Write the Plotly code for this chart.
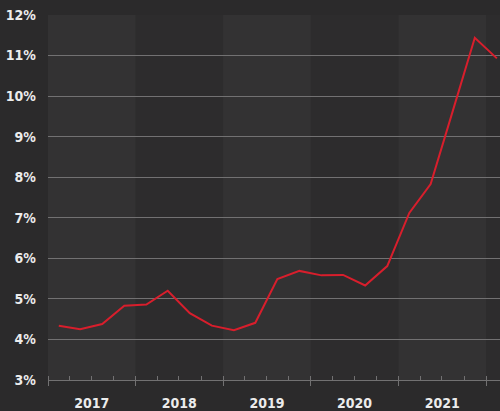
import plotly.graph_objects as go

# Quarterly data (mid-quarter dates)
dates = ["2017-02-15", "2017-05-15", "2017-08-15", "2017-11-15",
         "2018-02-15", "2018-05-15", "2018-08-15", "2018-11-15",
         "2019-02-15", "2019-05-15", "2019-08-15", "2019-11-15",
         "2020-02-15", "2020-05-15", "2020-08-15", "2020-11-15",
         "2021-02-15", "2021-05-15", "2021-08-15", "2021-11-15",
         "2022-02-15"]
values = [4.34, 4.25, 4.38, 4.83,
          4.86, 5.20, 4.65, 4.34,
          4.23, 4.41, 5.49, 5.69,
          5.58, 5.59, 5.33, 5.81,
          7.12, 7.83, 9.63, 11.44,
          10.93]
band_years = [2017, 2019, 2021]   # lighter background bands
y_ticks = [3, 4, 5, 6, 7, 8, 9, 10, 11, 12]
y_labels = [f"{v}%" for v in y_ticks]

FONT = "DejaVu Sans Condensed, Liberation Sans Narrow, sans-serif"
GRID = "#727172"
TEXT = "#ececec"
PAPER = "#2b2a2b"

fig = go.Figure()
fig.add_trace(go.Scatter(x=dates, y=values, mode="lines",
                         line=dict(color="#d81e2c", width=2),
                         hoverinfo="skip"))

for yr in band_years:
    fig.add_shape(type="rect", xref="x", yref="paper",
                  x0=f"{yr}-01-01", x1=f"{yr + 1}-01-01", y0=0, y1=1,
                  fillcolor="#333233", line_width=0, layer="below")

fig.update_layout(
    width=500, height=411,
    margin=dict(l=48, r=0, t=15, b=31, autoexpand=False),
    paper_bgcolor=PAPER,
    plot_bgcolor="#2d2c2d",
    showlegend=False,
    font=dict(family=FONT, color=TEXT, size=14),
)
fig.update_xaxes(
    type="date", range=["2017-01-01", "2022-02-28"],
    tick0="2017-01-01", dtick="M12", tickformat="%Y",
    ticklabelmode="period", automargin=False,
    showgrid=False, zeroline=False,
    showline=True, linecolor=GRID, linewidth=1,
    ticks="outside", ticklen=5, tickcolor=GRID, tickwidth=1,
    ticklabelstandoff=5,
    tickfont=dict(family=FONT, color=TEXT, size=14, weight="bold"),
    minor=dict(dtick="M3", ticks="inside", ticklen=4, tickcolor=GRID,
               tickwidth=1, showgrid=False),
)
fig.update_yaxes(
    range=[3, 12], tickvals=y_ticks, ticktext=y_labels,
    automargin=False,
    showgrid=True, gridcolor=GRID, gridwidth=1, zeroline=False,
    showline=False, ticks="", ticklabelstandoff=11,
    tickfont=dict(family=FONT, color=TEXT, size=14, weight="bold"),
)

fig.write_html(
    "out.html",
    config={"displayModeBar": False, "staticPlot": True},
    post_script=("document.body.style.margin='0';"
                 "document.body.style.overflow='hidden';"
                 f"document.body.style.background='{PAPER}';"),
)
